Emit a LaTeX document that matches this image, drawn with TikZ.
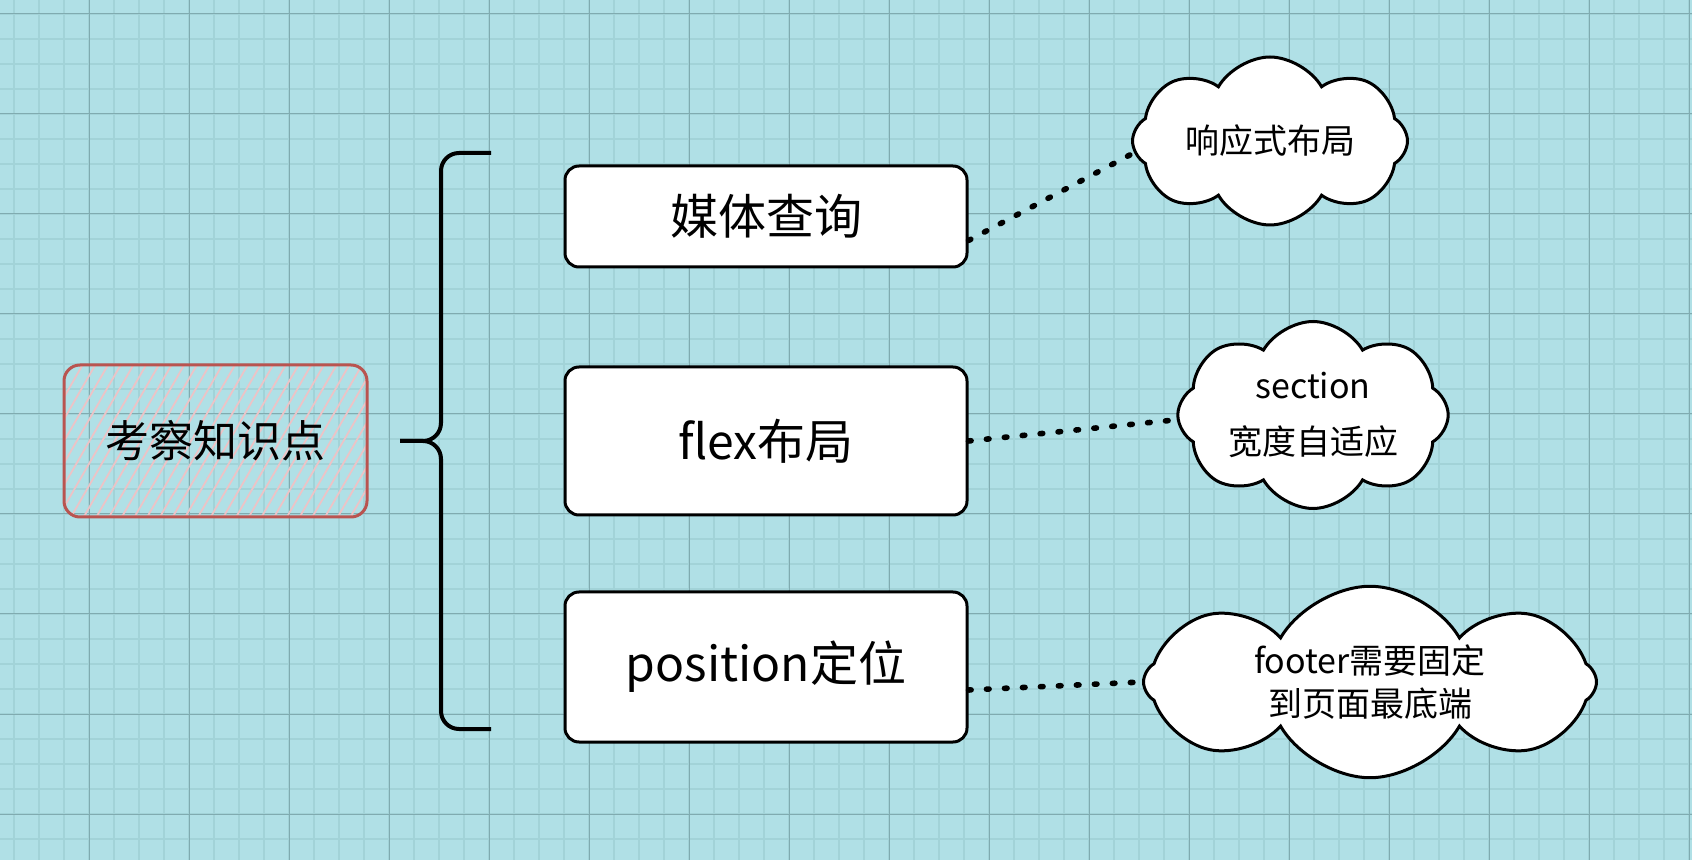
\documentclass[tikz,border=0pt]{standalone}
\usepackage{fontspec}
\setmainfont{Noto Sans CJK SC}
\usepackage{xcolor}
\usepackage{tikz}
\usetikzlibrary{shapes.symbols, patterns.meta, positioning}
\definecolor{gridbg}{HTML}{B0E0E6}
\definecolor{gridminor}{HTML}{A2D3D8}
\definecolor{gridmajor}{HTML}{80ABB0}
\definecolor{topicred}{HTML}{B95450}
\definecolor{hatchpink}{HTML}{EDC3C6}
\tikzstyle{minorline} = [gridminor, line width=1pt]
\tikzstyle{majorline} = [gridmajor, line width=0.5pt]
\tikzstyle{topic}     = [rectangle, draw=topicred, line width=1.5pt, rounded corners=8pt, pattern={Lines[angle=60, distance=5.5pt, line width=0.9pt]}, pattern color=hatchpink, minimum width=151.5pt, minimum height=76pt, font=\fontsize{22}{26}\selectfont]
\tikzstyle{block}     = [rectangle, draw, fill=white, line width=1.5pt, rounded corners=7pt, minimum width=201pt, font=\fontsize{24}{28}\selectfont]
\tikzstyle{bubble}    = [cloud, cloud puffs=8, cloud puff arc=120, cloud ignores aspect, draw, fill=white, line width=1.5pt, font=\fontsize{17}{21.5}\selectfont]
\tikzstyle{dotlink}   = [line width=2.8pt, line cap=round, dash pattern=on 1.3pt off 7.7pt]
\tikzstyle{brace}     = [line width=2pt, rounded corners=9pt]
\tikzset{every node/.style={align=center}}

\begin{document}
\begin{tikzpicture}[x=0.5pt, y=-0.5pt]
    % squared paper
    \fill[gridbg] (0,0) rectangle (1692,860);
    \useasboundingbox (0,0) rectangle (1692,860);
    \foreach \x in {14,39,...,1690} \draw[minorline] (\x,0) -- (\x,860);
    \foreach \y in {14,39,...,860}  \draw[minorline] (0,\y) -- (1692,\y);
    \foreach \x in {89,189,...,1690} \draw[majorline] (\x,0) -- (\x,860);
    \foreach \y in {14,114,...,860}  \draw[majorline] (0,\y) -- (1692,\y);

    \node (topic) at (215.5, 441) [topic] {考察知识点};

    \node (media) at (766, 216.5) [block, minimum height=50.5pt] {媒体查询};
    \node (flex)  at (766, 441)   [block, minimum height=74pt]   {flex布局};
    \node (pos)   at (766, 667)   [block, minimum height=75pt]   {position定位};

    \node (resp) at (1270, 141) [bubble, minimum width=137.5pt, minimum height=84pt]   {响应式布局};
    \node (sect) at (1313, 415) [bubble, minimum width=132.5pt, minimum height=93.5pt] {section\\[6.5pt]宽度自适应};
    \node (foot) at (1370, 682) [bubble, minimum width=226.5pt, minimum height=95pt]   {footer需要固定\\到页面最底端};

    % brace
    \coordinate (btop) at (491, 153);
    \coordinate (bbot) at (491, 729);
    \coordinate (btip) at (400, 441);
    \draw[brace] (btop) -- (441, 153) -- (441, 441) -- (btip);
    \draw[brace] (btip) -- (441, 441) -- (441, 729) -- (bbot);

    \draw[dotlink] ([yshift=-12pt]media.east)  -- (resp.185);
    \draw[dotlink] (flex.east)                 -- (sect.182);
    \draw[dotlink] ([yshift=-11.5pt]pos.east)  -- (foot.west);
\end{tikzpicture}
\end{document}
